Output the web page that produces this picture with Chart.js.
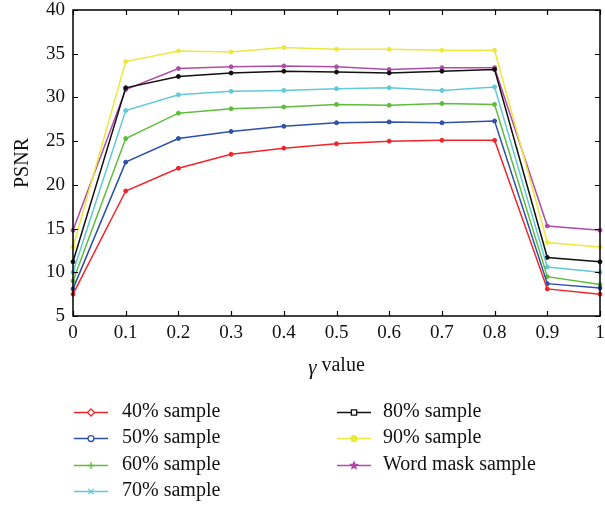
<!DOCTYPE html>
<html>
<head>
<meta charset="utf-8">
<script src="https://cdn.jsdelivr.net/npm/chart.js@4.4.1/dist/chart.umd.min.js"></script>
<style>
  html, body { margin: 0; padding: 0; background: #fff; }
  #wrap { width: 605px; height: 508px; position: relative; }
</style>
</head>
<body>
<div id="wrap"><canvas id="psnr"></canvas></div>
<script>
// gamma values on the x axis
const gammaValues = [0, 0.1, 0.2, 0.3, 0.4, 0.5, 0.6, 0.7, 0.8, 0.9, 1];

// PSNR per sample rate
const sample40 = [7.5, 19.3, 21.9, 23.5, 24.2, 24.7, 25.0, 25.1, 25.1, 8.1, 7.5];
const sample50 = [8.1, 22.6, 25.3, 26.1, 26.7, 27.1, 27.2, 27.1, 27.3, 8.7, 8.2];
const sample60 = [9.0, 25.3, 28.2, 28.7, 28.9, 29.2, 29.1, 29.3, 29.2, 9.5, 8.6];
const sample70 = [10.0, 28.5, 30.3, 30.7, 30.8, 31.0, 31.1, 30.8, 31.2, 10.6, 10.0];
const sample80 = [11.2, 31.1, 32.4, 32.8, 33.0, 32.9, 32.8, 33.0, 33.2, 11.7, 11.2];
const sample90 = [12.9, 34.1, 35.3, 35.2, 35.7, 35.5, 35.5, 35.4, 35.4, 13.4, 12.9];
const wordMask = [14.8, 30.9, 33.3, 33.5, 33.6, 33.5, 33.2, 33.4, 33.4, 15.3, 14.8];

const seriesLabels = ['40% sample', '50% sample', '60% sample', '70% sample',
                      '80% sample', '90% sample', 'Word mask sample'];
const seriesData = [sample40, sample50, sample60, sample70, sample80, sample90, wordMask];
const seriesColors = ['#f0252a', '#2d50a8', '#5fbd3c', '#62c9d9', '#111111', '#ece83c', '#b04ca6'];
const seriesMarkers = ['rectRot', 'circle', 'cross', 'crossRot', 'rect', 'circle', 'star'];
const markerFilled = [false, false, false, false, false, true, true];

const yTicks = [5, 10, 15, 20, 25, 30, 35, 40];

const serif = '"Liberation Serif", "DejaVu Serif", serif';

const datasets = seriesData.map((vals, i) => ({
  label: seriesLabels[i],
  data: vals.map((v, j) => ({ x: gammaValues[j], y: v })),
  borderColor: seriesColors[i],
  backgroundColor: seriesColors[i],
  borderWidth: 1.5,
  pointStyle: 'circle',
  pointRadius: 2,
  pointBorderWidth: 1,
  pointBackgroundColor: seriesColors[i],
  tension: 0,
  clip: false
}));

function drawMarker(ctx, style, x, y, r, color, filled) {
  ctx.save();
  ctx.strokeStyle = color;
  ctx.fillStyle = filled ? color : '#fff';
  ctx.lineWidth = 1.3;
  ctx.beginPath();
  if (style === 'rectRot') {
    ctx.moveTo(x, y - r); ctx.lineTo(x + r, y); ctx.lineTo(x, y + r); ctx.lineTo(x - r, y); ctx.closePath();
    ctx.fill(); ctx.stroke();
  } else if (style === 'circle') {
    ctx.arc(x, y, r * 0.85, 0, Math.PI * 2);
    ctx.fill(); ctx.stroke();
  } else if (style === 'rect') {
    ctx.rect(x - r * 0.75, y - r * 0.75, r * 1.5, r * 1.5);
    ctx.fill(); ctx.stroke();
  } else if (style === 'cross') {
    ctx.moveTo(x - r, y); ctx.lineTo(x + r, y); ctx.moveTo(x, y - r); ctx.lineTo(x, y + r);
    ctx.stroke();
  } else if (style === 'crossRot') {
    const d = r * 0.75;
    ctx.moveTo(x - d, y - d); ctx.lineTo(x + d, y + d); ctx.moveTo(x + d, y - d); ctx.lineTo(x - d, y + d);
    ctx.stroke();
  } else if (style === 'star') {
    for (let k = 0; k < 10; k++) {
      const a = -Math.PI / 2 + k * Math.PI / 5;
      const rr = k % 2 === 0 ? r : r * 0.45;
      const px = x + rr * Math.cos(a), py = y + rr * Math.sin(a);
      if (k === 0) ctx.moveTo(px, py); else ctx.lineTo(px, py);
    }
    ctx.closePath();
    ctx.fill(); ctx.stroke();
  }
  ctx.restore();
}

const framePlugin = {
  id: 'frame',
  afterDraw(chart) {
    const ctx = chart.ctx;
    const a = chart.chartArea;
    const xs = chart.scales.x, ys = chart.scales.y;
    ctx.save();
    ctx.strokeStyle = '#000';
    ctx.lineWidth = 1.5;
    ctx.strokeRect(a.left, a.top, a.right - a.left, a.bottom - a.top);
    // inward ticks on all four sides
    ctx.lineWidth = 1.2;
    ctx.beginPath();
    gammaValues.forEach(v => {
      const px = Math.round(xs.getPixelForValue(v)) + 0.5;
      ctx.moveTo(px, a.bottom); ctx.lineTo(px, a.bottom - 5);
      ctx.moveTo(px, a.top); ctx.lineTo(px, a.top + 5);
    });
    yTicks.forEach(v => {
      const py = Math.round(ys.getPixelForValue(v)) + 0.5;
      ctx.moveTo(a.left, py); ctx.lineTo(a.left + 5, py);
      ctx.moveTo(a.right, py); ctx.lineTo(a.right - 5, py);
    });
    ctx.stroke();

    // x axis title: italic gamma + "value"
    ctx.fillStyle = '#111';
    ctx.textBaseline = 'middle';
    ctx.textAlign = 'left';
    ctx.font = 'italic 21px ' + serif;
    const g = 'γ';
    const gw = ctx.measureText(g).width;
    ctx.font = '20px ' + serif;
    const vw = ctx.measureText(' value').width;
    let tx = (a.left + a.right) / 2 - (gw + vw) / 2;
    ctx.font = 'italic 21px ' + serif;
    ctx.fillText(g, tx, 368);
    ctx.font = '20px ' + serif;
    ctx.fillText(' value', tx + gw, 366);

    // legend in two columns
    ctx.font = '20px ' + serif;
    const rowY = [412, 438, 465, 491];
    seriesLabels.forEach((lab, i) => {
      const col = i < 4 ? 0 : 1;
      const row = i < 4 ? i : i - 4;
      const lx = col === 0 ? 74 : 337;
      const y = rowY[row];
      ctx.strokeStyle = seriesColors[i];
      ctx.lineWidth = 1.6;
      ctx.beginPath();
      ctx.moveTo(lx, y + 0.5); ctx.lineTo(lx + 34, y + 0.5);
      ctx.stroke();
      drawMarker(ctx, seriesMarkers[i], lx + 17, y + 0.5, 3.5, seriesColors[i], markerFilled[i]);
      ctx.fillStyle = '#111';
      ctx.fillText(lab, col === 0 ? 122 : 383, y);
    });
    ctx.restore();
  }
};

new Chart(document.getElementById('psnr'), {
  type: 'line',
  data: { datasets },
  options: {
    responsive: true,
    maintainAspectRatio: false,
    animation: false,
    layout: { padding: { top: 10, right: 4, left: 0, bottom: 132 } },
    plugins: { legend: { display: false }, tooltip: { enabled: false } },
    scales: {
      x: {
        type: 'linear',
        min: 0,
        max: 1,
        afterBuildTicks: s => { s.ticks = gammaValues.map(v => ({ value: v })); },
        afterFit: s => { s.height = 60; s.paddingLeft = 0; s.paddingRight = 0; },
        grid: { display: false, drawTicks: false },
        border: { display: false },
        ticks: {
          color: '#111',
          font: { family: serif, size: 19 },
          padding: 6,
          maxRotation: 0,
          autoSkip: false,
          callback: v => String(Math.round(v * 10) / 10)
        }
      },
      y: {
        min: 5,
        max: 40,
        afterBuildTicks: s => { s.ticks = yTicks.map(v => ({ value: v })); },
        afterFit: s => { s.width = 73; s.paddingTop = 0; s.paddingBottom = 0; },
        grid: { display: false, drawTicks: false },
        border: { display: false },
        title: {
          display: true,
          text: 'PSNR',
          color: '#111',
          font: { family: serif, size: 20 },
          padding: { top: 11, bottom: 0 }
        },
        ticks: {
          color: '#111',
          font: { family: serif, size: 19 },
          padding: 8,
          autoSkip: false
        }
      }
    }
  },
  plugins: [framePlugin]
});
</script>
</body>
</html>
